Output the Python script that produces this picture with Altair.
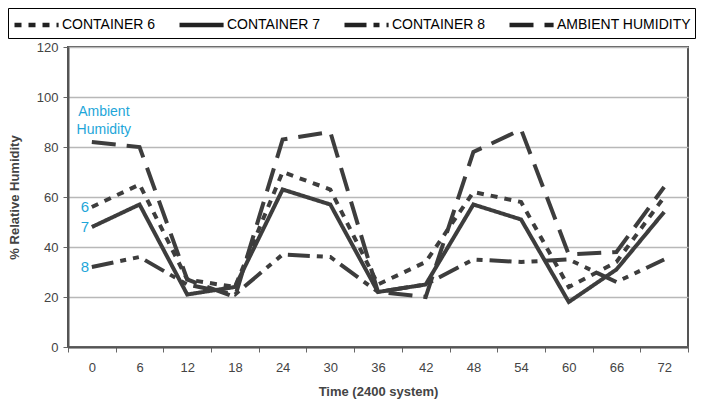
import altair as alt
import pandas as pd

times = ["0", "6", "12", "18", "24", "30", "36", "42", "48", "54", "60", "66", "72"]
series = ["CONTAINER 6", "CONTAINER 7", "CONTAINER 8", "AMBIENT HUMIDITY"]
container6 = [56, 65, 27, 24, 70, 63, 25, 34, 62, 58, 24, 34, 60]
container7 = [48, 57, 21, 24, 63, 57, 22, 25, 57, 51, 18, 31, 54]
container8 = [32, 36, 25, 21, 37, 36, 22, 25, 35, 34, 35, 26, 35]
ambient = [82, 80, 27, 20, 83, 86, 22, 20, 78, 87, 37, 38, 64]
y_ticks = [0, 20, 40, 60, 80, 100, 120]
short_labels = ["6", "7", "8"]

rows = []
for name, vals in zip(series, [container6, container7, container8, ambient]):
    for i, (t, v) in enumerate(zip(times, vals)):
        rows.append({"time": t, "series": name, "rh": v, "idx": i})
df = pd.DataFrame(rows)

lab_df = pd.DataFrame({
    "time": [times[0]] * 3,
    "label": short_labels,
    "rh": [container6[0], container7[0], container8[0]],
})
amb_df = pd.DataFrame({"time": [times[0]], "label": ["Ambient\nHumidity"], "rh": [ambient[0]]})

FONT = "Liberation Sans"
LINE = "#3d3d3d"
CYAN = "#1ea6d9"

xscale = alt.Scale(type="band", paddingInner=0, paddingOuter=0, domain=times)
yscale = alt.Scale(domain=[0, 120], nice=False)

x_enc = alt.X("time:O", sort=times, scale=xscale, bandPosition=0.5,
              axis=alt.Axis(title="Time (2400 system)", labelAngle=0, tickBand="extent",
                            labelPadding=9, titlePadding=11, tickSize=5))
y_enc = alt.Y("rh:Q", scale=yscale,
              axis=alt.Axis(title="% Relative Humidity", values=y_ticks, grid=True,
                            tickSize=5, labelPadding=5, titlePadding=15))

dashes = [[7, 7], [1, 0], [22, 7, 6, 7, 6, 7], [24, 11]]

lines = alt.Chart(df).mark_line(color=LINE, strokeWidth=4).encode(
    x=x_enc,
    y=y_enc,
    order=alt.Order("idx:Q"),
    strokeDash=alt.StrokeDash(
        "series:N", sort=series,
        scale=alt.Scale(domain=series, range=dashes),
        legend=alt.Legend(title=None, orient="none", legendX=-60, legendY=-39,
                          direction="horizontal",
                          symbolType="M-1,0H3.2", symbolSize=441,
                          symbolStrokeWidth=4.5, symbolStrokeColor="#222",
                          symbolFillColor="transparent",
                          labelFont=FONT, labelFontSize=14, labelColor="#000",
                          labelOffset=24, columnPadding=14, padding=4,
                          strokeColor="#000", labelLimit=300),
    ),
)

nums = alt.Chart(lab_df).mark_text(color=CYAN, font=FONT, fontSize=15, dx=-7,
                                   align="center", baseline="middle").encode(
    x=alt.X("time:O", sort=times, scale=xscale, bandPosition=0.5),
    y=alt.Y("rh:Q", scale=yscale),
    text="label:N",
)

amb_txt = alt.Chart(amb_df).mark_text(color=CYAN, font=FONT, fontSize=14, dx=12, dy=-30,
                                      align="center", baseline="middle", lineBreak="\n",
                                      lineHeight=18).encode(
    x=alt.X("time:O", sort=times, scale=xscale, bandPosition=0.5),
    y=alt.Y("rh:Q", scale=yscale),
    text="label:N",
)

chart = (lines + nums + amb_txt).properties(
    width=620, height=300,
    autosize=alt.AutoSizeParams(type="none"),
    padding={"left": 60, "top": 39, "right": 12, "bottom": 53},
).configure_view(
    stroke="#555", strokeWidth=2
).configure_axis(
    labelFont=FONT, titleFont=FONT, labelFontSize=13, titleFontSize=13,
    labelColor="#444", titleColor="#444", titleFontWeight="bold",
    domainColor="#555", domainWidth=2, tickColor="#666", tickWidth=1,
    gridColor="#b8b8b8", gridWidth=1.5,
).configure_axisX(grid=False)

chart.save("out.html", embed_options={"renderer": "svg", "actions": False})
